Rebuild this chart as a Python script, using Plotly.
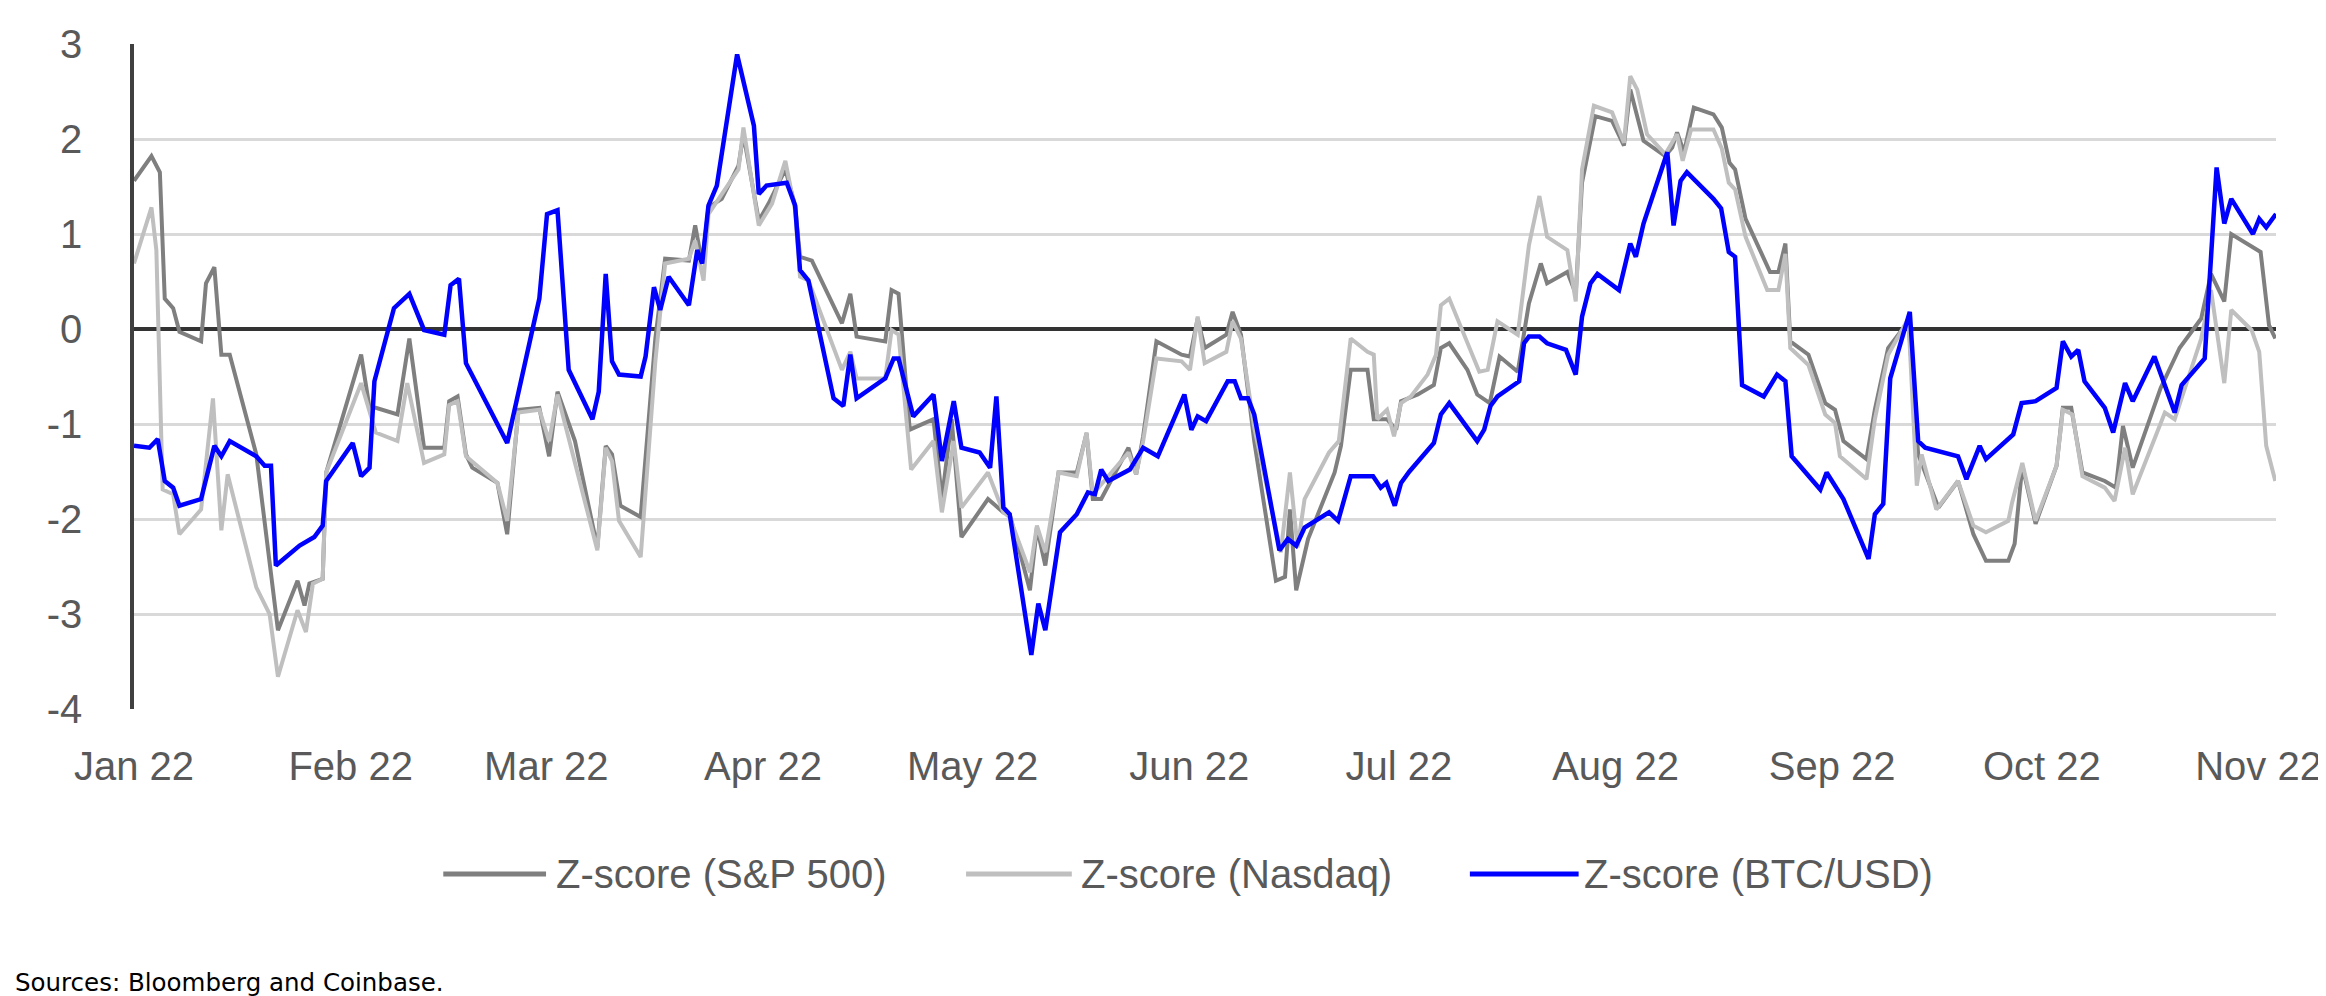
import pandas as pd
import plotly.graph_objects as go

# ---------------- data ----------------
# x positions are days after 2022-01-01, values are z-scores
sp_day = [0, 2.5, 3.7, 4.4, 5.6, 6.5, 9.6, 10.3, 11.5, 12.5, 13.7, 17.5, 20.6, 23.4, 24.4, 25.1,
          27.0, 27.5, 32.5, 33.7, 34.6, 37.7, 39.4, 41.5, 44.4, 45.1, 46.3, 47.5, 48.4, 52.0, 53.4,
          55.0, 58.0, 59.4, 60.6, 63.1, 66.3, 67.5, 68.4, 69.6, 72.5, 74.6, 76.0, 79.4, 80.3, 81.3,
          82.2, 84.1, 86.5, 87.2, 89.4, 90.8, 93.2, 94.6, 95.3, 97.0, 101.3, 102.5, 103.4, 107.5,
          108.4, 109.4, 111.0, 114.4, 115.6, 117.0, 118.4, 122.2, 124.4, 125.3, 128.2, 129.2, 130.4,
          132.3, 134.9, 136.3, 137.2, 138.4, 142.3, 143.4, 144.4, 146.3, 149.9, 151.1, 152.2, 153.2,
          156.3, 157.2, 158.4, 160.3, 163.4, 164.7, 165.4, 166.3, 168.0, 171.8, 172.7, 174.1, 176.5,
          177.4, 179.3, 180.6, 181.3, 183.7, 186.0, 187.0, 188.2, 190.8, 192.2, 194.0, 195.4, 198.0,
          199.6, 201.3, 202.2, 205.1, 206.3, 207.2, 209.1, 211.5, 213.2, 214.1, 216.0, 219.1, 220.1,
          220.8, 221.8, 223.2, 226.0, 227.2, 228.3, 229.1, 230.6, 234.1, 235.3, 236.3, 237.0, 239.6,
          242.0, 243.4, 244.6, 247.9, 249.1, 251.0, 253.9, 255.3, 258.2, 261.0, 263.2, 265.0, 268.2,
          269.1, 270.2, 272.1, 275.1, 276.0, 277.2, 278.8, 282.0, 283.6, 284.6, 286.0, 290.0, 292.7,
          295.8, 297.2, 299.1, 300.1, 304.3, 305.5, 306.4]
sp_val = [1.56, 1.82, 1.65, 0.32, 0.22, -0.03, -0.13, 0.48, 0.65, -0.27, -0.27, -1.32, -3.17, -2.65,
          -2.91, -2.68, -2.63, -1.51, -0.27, -0.83, -0.83, -0.90, -0.10, -1.25, -1.25, -0.76, -0.71,
          -1.32, -1.46, -1.62, -2.16, -0.85, -0.83, -1.34, -0.66, -1.18, -2.30, -1.23, -1.32, -1.86,
          -1.98, -0.10, 0.74, 0.72, 1.09, 0.69, 1.28, 1.37, 1.72, 2.05, 1.14, 1.32, 1.68, 1.30, 0.76,
          0.72, 0.06, 0.37, -0.08, -0.13, 0.41, 0.37, -1.06, -0.95, -1.79, -0.95, -2.19, -1.79, -1.93,
          -1.95, -2.75, -2.09, -2.49, -1.51, -1.51, -1.10, -1.79, -1.79, -1.25, -1.53, -1.13, -0.13,
          -0.27, -0.29, 0.11, -0.20, -0.06, 0.18, -0.06, -1.18, -2.65, -2.61, -1.90, -2.75, -2.21,
          -1.51, -1.23, -0.43, -0.43, -0.95, -0.95, -1.06, -0.76, -0.69, -0.59, -0.20, -0.15, -0.43,
          -0.69, -0.78, -0.29, -0.45, 0.27, 0.69, 0.48, 0.60, 0.37, 1.54, 2.24, 2.19, 1.93, 2.52,
          1.98, 1.82, 1.91, 2.07, 1.86, 2.33, 2.26, 2.12, 1.75, 1.68, 1.16, 0.60, 0.60, 0.90, -0.13,
          -0.27, -0.78, -0.85, -1.18, -1.37, -0.85, -0.20, 0.08, -1.32, -1.88, -1.60, -2.16, -2.44,
          -2.44, -2.26, -1.44, -2.05, -1.44, -0.83, -0.83, -1.51, -1.60, -1.67, -1.02, -1.46, -0.62,
          -0.20, 0.11, 0.58, 0.29, 1.00, 0.81, 0.04, -0.10]

nq_day = [0, 2.5, 3.2, 4.1, 5.6, 6.5, 9.6, 11.3, 12.5, 13.4, 17.5, 19.4, 20.6, 23.4, 24.6, 25.6,
          27.0, 27.5, 32.5, 34.6, 37.7, 39.1, 41.5, 44.4, 45.1, 46.3, 47.5, 52.0, 53.4, 55.0, 58.0,
          59.4, 60.6, 66.3, 67.5, 68.4, 69.4, 72.5, 74.6, 76.0, 79.4, 80.3, 81.5, 82.2, 86.5, 87.2,
          89.4, 91.3, 93.2, 94.6, 95.3, 96.5, 101.3, 102.5, 103.4, 107.5, 108.4, 109.4, 111.2, 114.4,
          115.6, 117.3, 118.4, 122.2, 124.4, 125.3, 128.2, 129.2, 130.4, 132.3, 134.9, 136.3, 137.2,
          142.3, 143.4, 144.4, 146.3, 149.9, 151.1, 152.2, 153.2, 156.3, 157.2, 158.4, 160.3, 164.1,
          165.4, 166.5, 167.5, 171.0, 172.4, 174.1, 176.5, 177.4, 177.9, 179.3, 180.3, 181.3, 182.7,
          185.1, 186.3, 187.0, 188.2, 192.5, 193.7, 195.1, 198.0, 199.6, 201.1, 202.2, 205.1, 206.3,
          207.2, 208.9, 211.5, 213.2, 214.1, 215.1, 216.5, 219.1, 220.8, 221.6, 222.8, 226.0, 227.2,
          228.2, 229.1, 230.6, 233.7, 235.3, 236.3, 237.0, 239.6, 242.0, 243.4, 244.1, 247.9, 249.1,
          251.0, 253.9, 255.1, 255.8, 257.9, 261.0, 263.2, 265.0, 268.2, 268.7, 270.2, 272.1, 275.1,
          276.0, 277.4, 278.8, 282.0, 283.4, 284.9, 286.0, 290.6, 292.0, 295.8, 297.2, 299.1, 300.1,
          303.0, 304.1, 305.1, 306.4]
nq_val = [0.69, 1.28, 0.83, -1.69, -1.74, -2.16, -1.90, -0.73, -2.12, -1.53, -2.72, -3.00, -3.66,
          -2.96, -3.19, -2.68, -2.63, -1.51, -0.57, -1.09, -1.18, -0.57, -1.41, -1.32, -0.80, -0.76,
          -1.34, -1.62, -2.02, -0.88, -0.85, -1.18, -0.69, -2.33, -1.25, -1.39, -2.02, -2.40, -0.34,
          0.69, 0.74, 0.93, 0.51, 1.21, 1.68, 2.12, 1.09, 1.32, 1.77, 1.25, 0.55, 0.51, -0.43, -0.24,
          -0.52, -0.52, -0.01, -0.06, -1.48, -1.18, -1.93, -1.18, -1.88, -1.51, -1.93, -1.98, -2.56,
          -2.07, -2.35, -1.51, -1.55, -1.09, -1.74, -1.30, -1.53, -1.18, -0.31, -0.34, -0.43, 0.13,
          -0.36, -0.24, 0.08, -0.10, -1.04, -2.35, -1.51, -2.30, -1.79, -1.30, -1.18, -0.10, -0.24,
          -0.27, -0.95, -0.85, -1.13, -0.78, -0.71, -0.48, -0.27, 0.25, 0.32, -0.45, -0.43, 0.08,
          -0.06, 0.88, 1.40, 0.97, 0.83, 0.29, 1.68, 2.35, 2.28, 1.96, 2.66, 2.52, 2.05, 1.84, 2.05,
          1.77, 2.10, 2.10, 1.90, 1.54, 1.47, 0.97, 0.41, 0.41, 0.79, -0.20, -0.38, -0.90, -0.99,
          -1.34, -1.58, -0.95, -0.27, 0.11, -1.65, -1.32, -1.90, -1.60, -2.07, -2.14, -2.02, -1.84,
          -1.41, -2.02, -1.44, -0.85, -0.90, -1.55, -1.67, -1.81, -1.25, -1.74, -0.88, -0.95, -0.10,
          0.41, -0.57, 0.20, -0.01, -0.24, -1.23, -1.60]

btc_day = [0, 2.2, 3.4, 4.4, 5.6, 6.5, 9.6, 11.5, 12.5, 13.7, 17.5, 18.7, 19.6, 20.3, 23.7, 25.8,
           27.0, 27.5, 31.3, 32.5, 33.7, 34.4, 37.2, 39.4, 41.5, 44.4, 45.3, 46.5, 47.5, 53.4, 58.0,
           59.1, 60.6, 62.2, 65.6, 66.5, 67.5, 68.4, 69.4, 72.5, 73.2, 74.4, 75.3, 76.5, 79.4, 80.6,
           81.3, 82.2, 83.4, 86.3, 88.7, 89.4, 90.5, 93.4, 94.6, 95.3, 96.5, 100.1, 101.5, 102.5,
           103.4, 107.5, 108.7, 109.4, 111.5, 114.4, 115.6, 117.3, 118.4, 121.0, 122.5, 123.4, 124.4,
           125.3, 128.4, 129.4, 130.4, 132.5, 134.9, 136.5, 137.5, 138.4, 139.4, 142.5, 144.4, 146.5,
           150.3, 151.3, 152.2, 153.4, 156.5, 157.5, 158.4, 159.4, 160.3, 163.9, 165.1, 166.3, 167.5,
           171.0, 172.3, 174.1, 177.3, 178.4, 179.2, 180.4, 181.3, 182.5, 186.0, 187.0, 188.2, 191.0,
           192.2, 193.2, 194.1, 195.1, 198.2, 198.9, 199.6, 201.1, 202.2, 204.9, 206.3, 207.2, 208.4,
           209.4, 212.5, 214.1, 214.9, 216.0, 219.4, 220.3, 221.3, 222.2, 226.0, 227.1, 228.2, 229.1,
           230.1, 233.2, 235.1, 236.3, 237.2, 241.3, 242.2, 244.6, 248.2, 249.1, 250.3, 251.3, 254.1,
           255.3, 256.3, 261.0, 262.2, 264.1, 265.0, 268.9, 270.1, 272.1, 275.1, 276.0, 277.2, 278.2,
           279.1, 282.0, 283.2, 284.9, 286.0, 289.1, 292.0, 293.0, 296.3, 298.0, 299.1, 300.1, 303.2,
           304.1, 305.1, 306.5]
btc_val = [-1.23, -1.25, -1.16, -1.60, -1.67, -1.86, -1.79, -1.23, -1.34, -1.18, -1.34, -1.44,
           -1.44, -2.49, -2.28, -2.19, -2.07, -1.60, -1.20, -1.55, -1.46, -0.55, 0.22, 0.37, -0.01,
           -0.06, 0.46, 0.53, -0.36, -1.20, 0.32, 1.21, 1.25, -0.43, -0.95, -0.66, 0.58, -0.34, -0.48,
           -0.50, -0.29, 0.44, 0.20, 0.55, 0.25, 0.83, 0.69, 1.30, 1.51, 2.89, 2.14, 1.42, 1.51, 1.54,
           1.30, 0.62, 0.51, -0.73, -0.81, -0.27, -0.73, -0.52, -0.31, -0.31, -0.92, -0.69, -1.39,
           -0.76, -1.25, -1.30, -1.46, -0.71, -1.88, -1.95, -3.43, -2.89, -3.17, -2.14, -1.95, -1.72,
           -1.74, -1.48, -1.60, -1.48, -1.25, -1.34, -0.69, -1.06, -0.92, -0.97, -0.55, -0.55, -0.73,
           -0.73, -0.90, -2.33, -2.21, -2.28, -2.09, -1.93, -2.02, -1.55, -1.55, -1.67, -1.62, -1.86,
           -1.62, -1.50, -1.20, -0.90, -0.78, -1.06, -1.18, -1.06, -0.81, -0.71, -0.55, -0.15, -0.08,
           -0.08, -0.15, -0.22, -0.48, 0.13, 0.48, 0.58, 0.41, 0.90, 0.76, 1.11, 1.86, 1.09, 1.56,
           1.65, 1.37, 1.27, 0.81, 0.76, -0.59, -0.71, -0.48, -0.55, -1.34, -1.69, -1.51, -1.79,
           -2.42, -1.95, -1.84, -0.52, 0.18, -1.18, -1.25, -1.34, -1.58, -1.23, -1.37, -1.11, -0.78,
           -0.76, -0.62, -0.13, -0.29, -0.22, -0.55, -0.83, -1.09, -0.57, -0.76, -0.29, -0.88, -0.59,
           -0.31, 1.70, 1.11, 1.37, 1.00, 1.16, 1.07, 1.21]

series_names = ["Z-score (S&P 500)", "Z-score (Nasdaq)", "Z-score (BTC/USD)"]
series_colors = ["#7f7f7f", "#bfbfbf", "#0000ff"]

month_starts = ["2022-01-01", "2022-02-01", "2022-03-01", "2022-04-01", "2022-05-01", "2022-06-01",
                "2022-07-01", "2022-08-01", "2022-09-01", "2022-10-01", "2022-11-01"]
month_labels = ["Jan 22", "Feb 22", "Mar 22", "Apr 22", "May 22", "Jun 22",
                "Jul 22", "Aug 22", "Sep 22", "Oct 22", "Nov 22"]
y_tick_vals = [-4, -3, -2, -1, 0, 1, 2, 3]
y_tick_text = ["-4", "-3", "-2", "-1", "0", "1", "2", "3"]
source_note = "Sources: Bloomberg and Coinbase."

# ---------------- build ----------------
BASE = pd.Timestamp("2022-01-01")


def to_dates(days):
    return BASE + pd.to_timedelta(days, unit="D")


W_FIG, H_FIG = 2326, 996
M_L, M_R, M_T, M_B = 126, 53, 36, 295
PLOT_W = W_FIG - M_L - M_R
PLOT_H = H_FIG - M_T - M_B


def px_x(p):
    return (p - M_L) / PLOT_W


def px_y(p):
    return (H_FIG - M_B - p) / PLOT_H


FONT = "Liberation Sans, Arial, sans-serif"
FS = 40
TXT = "#595959"

days_all = sp_day + nq_day + btc_day
x_range = [to_dates([min(days_all)])[0], to_dates([max(days_all)])[0]]
y_range = [min(y_tick_vals), max(y_tick_vals)]

fig = go.Figure()
for name, color, d, v, w in [
    (series_names[0], series_colors[0], sp_day, sp_val, 4),
    (series_names[1], series_colors[1], nq_day, nq_val, 4),
    (series_names[2], series_colors[2], btc_day, btc_val, 4.5),
]:
    fig.add_trace(go.Scatter(x=to_dates(d), y=v, mode="lines", name=name,
                             line=dict(color=color, width=w), showlegend=False))

zero_frac = (0 - y_range[0]) / (y_range[1] - y_range[0])

fig.update_layout(
    width=W_FIG, height=H_FIG, autosize=False,
    margin=dict(l=M_L, r=M_R, t=M_T, b=M_B),
    paper_bgcolor="white", plot_bgcolor="white",
    font=dict(family=FONT, size=FS, color=TXT),
    xaxis=dict(type="date", range=x_range, showgrid=False, zeroline=False, showline=False,
               tickvals=month_starts, ticktext=month_labels, ticks="",
               ticklabelstandoff=30, ticklabeloverflow="allow",
               tickfont=dict(family=FONT, size=FS, color=TXT)),
    xaxis2=dict(type="date", range=x_range, overlaying="x", anchor="free", position=zero_frac,
                showgrid=False, zeroline=False, showline=True, linecolor="#333333", linewidth=3.5,
                ticks="outside", tickvals=month_starts, ticklen=12, tickwidth=3,
                tickcolor="#333333", showticklabels=False),
    yaxis=dict(range=y_range, tickvals=y_tick_vals, ticktext=y_tick_text,
               showgrid=True, gridcolor="#d9d9d9", gridwidth=2.5,
               zeroline=True, zerolinecolor="#333333", zerolinewidth=3.5,
               showline=True, linecolor="#404040", linewidth=3.5, ticks="",
               ticklabelstandoff=40, tickfont=dict(family=FONT, size=FS, color=TXT)),
)

# legend (drawn as line samples + real text below the plot)
legend_items = [
    (436, 539, 547),
    (960, 1066, 1073),
    (1465, 1574, 1577),
]
LEG_Y = 866
for (x0, x1, xt), name, color in zip(legend_items, series_names, series_colors):
    fig.add_shape(type="line", xref="paper", yref="paper",
                  x0=px_x(x0), x1=px_x(x1), y0=px_y(LEG_Y), y1=px_y(LEG_Y),
                  line=dict(color=color, width=5))
    fig.add_annotation(xref="paper", yref="paper", x=px_x(xt), y=px_y(LEG_Y),
                       xanchor="left", yanchor="middle", showarrow=False, text=name,
                       font=dict(family=FONT, size=FS, color=TXT))

fig.add_annotation(xref="paper", yref="paper", x=px_x(5), y=px_y(974),
                   xanchor="left", yanchor="middle", showarrow=False, text=source_note,
                   font=dict(family="DejaVu Sans, Verdana, sans-serif", size=24.5, color="black"))

fig.write_html("out.html")
